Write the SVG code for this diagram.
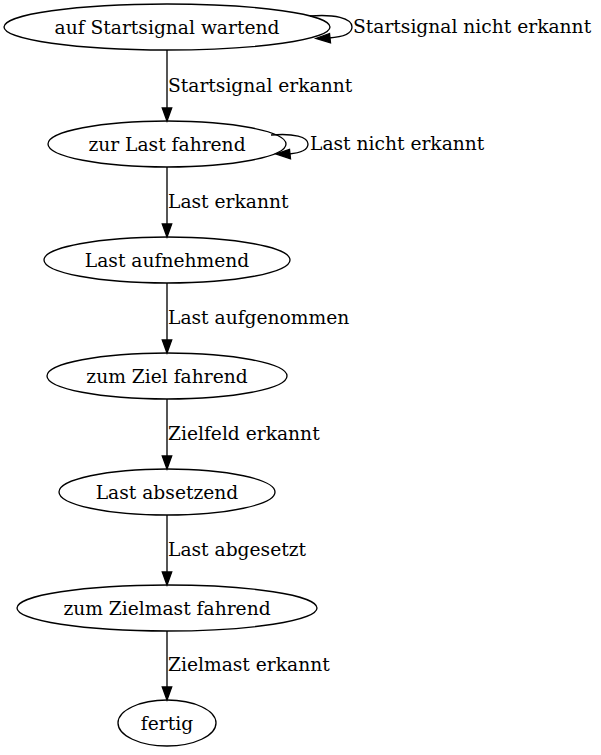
<svg xmlns="http://www.w3.org/2000/svg" width="601" height="755" viewBox="0 0 601 755">
<style>
text{font-family:"DejaVu Serif",serif;font-size:18.67px;fill:#000}
.n ellipse{fill:none;stroke:#000;stroke-width:1.33}
.n text{text-anchor:middle}
#edges path{fill:none;stroke:#000;stroke-width:1.33}
#edges polygon{fill:#000;stroke:#000;stroke-width:1.33}
</style>
<rect width="601" height="755" fill="#fff"/>
<g id="edges">
<path d="M167,50 V108"/><polygon points="162.3,108 167,121 171.7,108"/>
<text x="168" y="92">Startsignal erkannt</text>
<path d="M167,167 V224"/><polygon points="162.3,224 167,237 171.7,224"/>
<text x="168" y="208">Last erkannt</text>
<path d="M167,283 V340"/><polygon points="162.3,340 167,353 171.7,340"/>
<text x="168" y="324">Last aufgenommen</text>
<path d="M167,399 V456"/><polygon points="162.3,456 167,469 171.7,456"/>
<text x="168" y="440">Zielfeld erkannt</text>
<path d="M167,515 V572"/><polygon points="162.3,572 167,585 171.7,572"/>
<text x="168" y="556">Last abgesetzt</text>
<path d="M167,631 V687"/><polygon points="162.3,687 167,700 171.7,687"/>
<text x="168" y="671">Zielmast erkannt</text>
<path d="M310,16 C334,14 352,18 352,27 C352,34 343,37 329,38"/><polygon points="329.5,33.5 316,38.5 330.5,42.8"/>
<text x="353" y="33">Startsignal nicht erkannt</text>
<path d="M271,135 C294,133 308,137 308,144 C308,150 300,153 289,154"/><polygon points="289.5,149.5 276,154 290.5,158.8"/>
<text x="310" y="150">Last nicht erkannt</text>
</g>
<g id="n1" class="n"><ellipse cx="167" cy="27" rx="163" ry="23"/><text x="167" y="33.5">auf Startsignal wartend</text></g>
<g id="n2" class="n"><ellipse cx="167" cy="144" rx="119" ry="23"/><text x="167" y="150.5">zur Last fahrend</text></g>
<g id="n3" class="n"><ellipse cx="167" cy="260" rx="123" ry="23"/><text x="167" y="266.5">Last aufnehmend</text></g>
<g id="n4" class="n"><ellipse cx="167" cy="376" rx="120" ry="23"/><text x="167" y="382.5">zum Ziel fahrend</text></g>
<g id="n5" class="n"><ellipse cx="167" cy="492" rx="108" ry="23"/><text x="167" y="498.5">Last absetzend</text></g>
<g id="n6" class="n"><ellipse cx="167" cy="608" rx="150" ry="23"/><text x="167" y="614.5">zum Zielmast fahrend</text></g>
<g id="n7" class="n"><ellipse cx="167" cy="723" rx="49" ry="23"/><text x="167" y="729.5">fertig</text></g>
</svg>
